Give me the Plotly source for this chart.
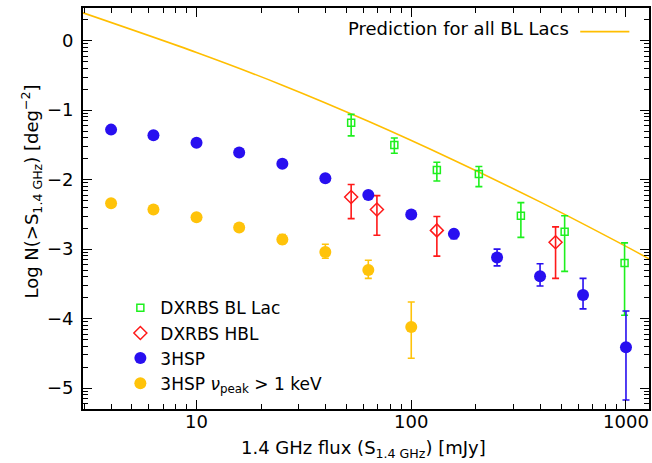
import math
import plotly.graph_objects as go

# prediction curve for all BL Lacs
pred_flux = [2.96, 10, 25.1, 63.1, 158, 398, 1000, 1300]
pred_logn = [0.40, -0.17, -0.64, -1.16, -1.72, -2.32, -2.96, -3.15]

# DXRBS BL Lac
dxbl_flux = [52.5, 83.4, 131.6, 206.5, 324, 518, 985]
dxbl_logn = [-1.18, -1.50, -1.86, -1.92, -2.52, -2.75, -3.20]
dxbl_hi = [0.12, 0.10, 0.11, 0.11, 0.19, 0.23, 0.29]
dxbl_lo = [0.19, 0.12, 0.16, 0.18, 0.31, 0.57, 0.75]

# DXRBS HBL
dxhbl_flux = [52.5, 69.2, 131.6, 470]
dxhbl_logn = [-2.25, -2.43, -2.73, -2.90]
dxhbl_hi = [0.18, 0.20, 0.20, 0.22]
dxhbl_lo = [0.31, 0.37, 0.37, 0.52]

# 3HSP
hsp_flux = [4.0, 6.3, 10, 15.8, 25.1, 39.8, 63.1, 100, 158, 251, 398, 631, 1000]
hsp_logn = [-1.28, -1.36, -1.47, -1.61, -1.77, -1.98, -2.22, -2.50, -2.78,
            -3.12, -3.39, -3.66, -4.41]
hsp_hi = [0.01, 0.01, 0.02, 0.02, 0.02, 0.03, 0.04, 0.05, 0.06, 0.12, 0.18, 0.24, 0.52]
hsp_lo = [0.01, 0.01, 0.02, 0.02, 0.02, 0.03, 0.04, 0.05, 0.07, 0.12, 0.14, 0.20, 0.76]

# 3HSP nu_peak > 1 keV
hbl_flux = [4.0, 6.3, 10, 15.8, 25.1, 39.8, 63.1, 100]
hbl_logn = [-2.34, -2.43, -2.54, -2.69, -2.86, -3.04, -3.30, -4.12]
hbl_hi = [0.02, 0.03, 0.03, 0.04, 0.07, 0.11, 0.14, 0.36]
hbl_lo = [0.02, 0.03, 0.03, 0.04, 0.06, 0.09, 0.12, 0.45]

x_ticks = [10, 100, 1000]
x_minor = [3, 4, 5, 6, 7, 8, 9, 20, 30, 40, 50, 60, 70, 80, 90,
           200, 300, 400, 500, 600, 700, 800, 900]
y_ticks = [0, -1, -2, -3, -4, -5]
y_minor = [n + math.log10(k) for n in range(-6, 1) for k in range(2, 10)]

BLUE = "rgb(40,15,240)"
GOLD = "rgb(255,195,10)"
GREEN = "rgb(30,240,30)"
RED = "rgb(255,25,25)"
LINE = "rgb(255,190,0)"
FONT = "DejaVu Sans"


def errs(color, hi, lo):
    return dict(type="data", array=hi, arrayminus=lo, color=color,
                thickness=1.6, width=3.5, symmetric=False)


fig = go.Figure()

fig.add_trace(go.Scatter(
    x=pred_flux, y=pred_logn, mode="lines",
    line=dict(color=LINE, width=1.6, shape="spline", smoothing=0.8),
    showlegend=False, name="Prediction for all BL Lacs"))

fig.add_trace(go.Scatter(
    x=dxbl_flux, y=dxbl_logn, mode="markers", name="DXRBS BL Lac",
    marker=dict(symbol="square-open", size=7, color=GREEN, line=dict(width=1.5)),
    error_y=errs(GREEN, dxbl_hi, dxbl_lo)))

fig.add_trace(go.Scatter(
    x=dxhbl_flux, y=dxhbl_logn, mode="markers", name="DXRBS HBL",
    marker=dict(symbol="diamond-open", size=10, color=RED, line=dict(width=1.5)),
    error_y=errs(RED, dxhbl_hi, dxhbl_lo)))

fig.add_trace(go.Scatter(
    x=hsp_flux, y=hsp_logn, mode="markers", name="3HSP",
    marker=dict(symbol="circle", size=12, color=BLUE),
    error_y=errs(BLUE, hsp_hi, hsp_lo)))

fig.add_trace(go.Scatter(
    x=hbl_flux, y=hbl_logn, mode="markers",
    name="3HSP <i>ν</i><sub>peak</sub> > 1 keV",
    marker=dict(symbol="circle", size=12, color=GOLD),
    error_y=errs(GOLD, hbl_hi, hbl_lo)))

# top-right label with its line sample
fig.add_annotation(
    text="Prediction for all BL Lacs", xref="paper", yref="paper",
    x=0.8627, y=0.948, xanchor="right", yanchor="middle", showarrow=False,
    font=dict(family=FONT, size=18, color="black"))
fig.add_shape(type="line", xref="paper", yref="paper",
              x0=0.8785, x1=0.9653, y0=0.941, y1=0.941,
              line=dict(color=LINE, width=1.6))

# axis titles
fig.add_annotation(
    text="1.4 GHz flux (S<sub>1.4 GHz</sub>) [mJy]", xref="paper", yref="paper",
    x=0.496, y=-0.066, xanchor="center", yanchor="top", showarrow=False,
    font=dict(family=FONT, size=18, color="black"))
fig.add_annotation(
    text="Log N(>S<sub>1.4 GHz</sub>) [deg<sup>−2</sup>]", xref="paper", yref="paper",
    x=-0.091, y=0.5436, xanchor="center", yanchor="middle", textangle=-90,
    showarrow=False, font=dict(family=FONT, size=18, color="black"))

axis_common = dict(
    showline=True, linecolor="black", linewidth=1.8, mirror="ticks",
    ticks="inside", tickcolor="black", tickwidth=1.3, ticklen=9,
    showgrid=False, zeroline=False,
    tickfont=dict(family=FONT, size=18, color="black"),
)

fig.update_xaxes(
    type="log", range=[math.log10(2.96), math.log10(1280)],
    tickmode="array", tickvals=x_ticks, ticktext=[str(v) for v in x_ticks],
    minor=dict(tickmode="array", tickvals=x_minor, ticks="inside",
               ticklen=5, tickcolor="black", tickwidth=1.3),
    ticklabelstandoff=-5,
    **axis_common)
fig.update_yaxes(
    range=[-5.30, 0.47],
    tickmode="array", tickvals=y_ticks,
    minor=dict(tickmode="array", tickvals=y_minor, ticks="inside",
               ticklen=5, tickcolor="black", tickwidth=1.3),
    ticklabelstandoff=4,
    **axis_common)

fig.update_layout(
    width=652, height=463,
    margin=dict(l=83, r=1, t=8, b=54),
    plot_bgcolor="white", paper_bgcolor="white",
    font=dict(family=FONT, size=18, color="black"),
    showlegend=True,
    legend=dict(x=0.066, y=0.296, xanchor="left", yanchor="top",
                bgcolor="rgba(0,0,0,0)", borderwidth=0,
                font=dict(family=FONT, size=17, color="black"),
                tracegroupgap=0, itemsizing="trace"),
)

# the page's default body margin would push the figure off the window
fig.write_html("out.html",
               config={"displayModeBar": False},
               post_script="document.body.style.margin='0';"
                           "document.body.style.overflow='hidden';")
